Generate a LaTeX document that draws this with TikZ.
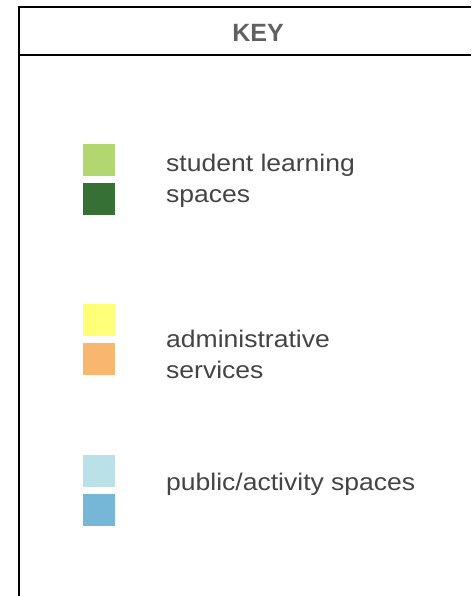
\documentclass[tikz,border=0pt]{standalone}
\usepackage{fontspec}
\setmainfont{Liberation Sans}
\newfontfamily\keyfont[FakeStretch=1.105]{Liberation Sans}
\definecolor{learnlight}{RGB}{178,214,112}
\definecolor{learndark}{RGB}{55,112,52}
\definecolor{adminlight}{RGB}{255,255,120}
\definecolor{admindark}{RGB}{248,182,110}
\definecolor{publight}{RGB}{186,224,232}
\definecolor{pubdark}{RGB}{118,182,214}
\definecolor{keytext}{RGB}{68,68,68}
\tikzset{
	swatch/.style={draw=none, fill=#1, minimum size=32pt, inner sep=0pt, anchor=north west},
	keylabel/.style={anchor=base west, align=left, inner sep=0pt, text=keytext,
		font=\keyfont\fontsize{24}{31}\selectfont}
}
\begin{document}
\begin{tikzpicture}[x=1pt, y=-1pt]
				\useasboundingbox (0,0) rectangle (471,596);
				
				% frame of the key
				\draw[line width=2pt] (19,596) -- (19,6.8) -- (471,6.8);
				\draw[line width=2pt] (19,54.8) -- (471,54.8);
				\node[anchor=base, text=keytext!85, font=\bfseries\fontsize{25}{30}\selectfont] (key) at (258,41.7) {KEY};
				
				% student learning spaces (base = last line)
				\node[swatch=learnlight] (learnA) at (83,144) {};
				\node[swatch=learndark] (learnB) at (83,183) {};
				\node[keylabel] (learn) at (166,202) {student learning\\spaces};
				
				% administrative services
				\node[swatch=adminlight] (adminA) at (83,304) {};
				\node[swatch=admindark] (adminB) at (83,343) {};
				\node[keylabel] (admin) at (166,378.5) {administrative\\services};
				
				% public/activity spaces
				\node[swatch=publight] (pubA) at (83,455) {};
				\node[swatch=pubdark] (pubB) at (83,494) {};
				\node[keylabel] (pub) at (166,490) {public/activity spaces};
			\end{tikzpicture}
\end{document}
